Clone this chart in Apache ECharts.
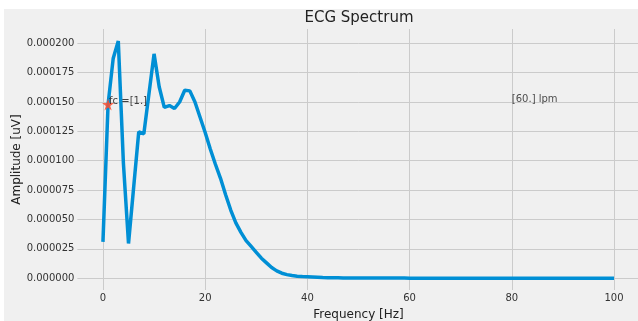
<!DOCTYPE html>
<html>
<head>
<meta charset="utf-8">
<script src="https://cdn.jsdelivr.net/npm/echarts@6/dist/echarts.min.js"></script>
<style>
    html, body { margin: 0; padding: 0; background: #ffffff; }
    #chart { position: absolute; left: 4px; top: 9px; width: 634px; height: 312px; background: #f0f0f0; }
</style>
</head>
<body>
<div id="chart"></div>
<script>
    // 频率 0..100 Hz
    const freqs = []
    for (let i = 0; i <= 100; i++) freqs.push(i)
    // 幅值
    const amps = [
        0.0000309, 0.000148, 0.000187, 0.000202, 0.000098, 0.0000295, 0.000077, 0.0001245, 0.000123, 0.000157,
        0.000191, 0.000163, 0.0001455, 0.000147, 0.0001445, 0.00015, 0.00016, 0.0001595, 0.00015, 0.000137,
        0.000124, 0.00011, 0.000097, 0.000085, 0.000071, 0.000058, 0.000047, 0.000039, 0.000032, 0.000027,
        0.000022, 0.000017, 0.000013, 0.000009, 0.0000062, 0.0000042, 0.000003, 0.0000022, 0.0000017, 0.0000013,
        0.0000011, 0.0000009, 0.0000007, 0.0000005, 0.0000004, 0.0000003, 0.0000003, 0.0000002, 0.0000002, 0.0000002,
        0.0000001, 0.0000001, 0.0000001, 0.0000001, 0.0000001, 0.0000001, 0.0000001, 0.0000001, 0.0000001, 0.0000001,
        0, 0, 0, 0, 0, 0, 0, 0, 0, 0,
        0, 0, 0, 0, 0, 0, 0, 0, 0, 0,
        0, 0, 0, 0, 0, 0, 0, 0, 0, 0,
        0, 0, 0, 0, 0, 0, 0, 0, 0, 0,
        0
    ]
    // 刻度
    const xTicks = [0, 20, 40, 60, 80, 100]
    const yTicks = [0, 0.000025, 0.00005, 0.000075, 0.0001, 0.000125, 0.00015, 0.000175, 0.0002]
    // 截止频率标记
    const fcPoint = [1, 0.000148]
    const fcText = 'fc =[1.]'
    // 心率文字
    const lpmPoint = [80, 0.00015]
    const lpmText = '[60.] lpm'

    const textColor = '#333'
    const gridColor = '#cbcbcb'
    const starPath = 'path://M50,0 L61,35 L98,35 L68,57 L79,91 L50,70 L21,91 L32,57 L2,35 L39,35 Z'

    let chart = echarts.init(document.getElementById('chart'))
    chart.setOption({
        animation: false,
        title: {
            text: 'ECG Spectrum',
            left: 355,
            top: 2,
            textAlign: 'center',
            padding: 0,
            textStyle: {
                color: '#222',
                fontSize: 15,
                fontWeight: 'normal',
                fontFamily: 'DejaVu Sans'
            }
        },
        grid: {
            left: 73.4,
            right: -1.6,
            top: 20,
            bottom: 31,
            containLabel: false,
            outerBoundsMode: 'none'
        },
        xAxis: {
            type: 'value',
            min: -5,
            max: 105,
            name: 'Frequency [Hz]',
            nameLocation: 'middle',
            nameGap: 19,
            nameMoveOverlap: false,
            nameTextStyle: { color: '#222', fontSize: 12, fontFamily: 'DejaVu Sans' },
            axisLine: { show: false },
            axisTick: { show: false, customValues: xTicks },
            axisLabel: {
                customValues: xTicks,
                color: textColor,
                fontSize: 10,
                margin: 3,
                fontFamily: 'DejaVu Sans'
            },
            splitLine: { show: true, lineStyle: { color: gridColor, width: 1 } }
        },
        yAxis: {
            type: 'value',
            min: -0.0000101,
            max: 0.0002122,
            name: 'Amplitude [uV]',
            nameLocation: 'middle',
            nameGap: 55,
            nameMoveOverlap: false,
            nameTextStyle: { color: '#222', fontSize: 12, fontFamily: 'DejaVu Sans' },
            axisLine: { show: false },
            axisTick: { show: false, customValues: yTicks },
            axisLabel: {
                customValues: yTicks,
                color: textColor,
                fontSize: 10,
                margin: 3,
                fontFamily: 'DejaVu Sans',
                formatter: v => v.toFixed(6)
            },
            splitLine: { show: true, lineStyle: { color: gridColor, width: 1 } }
        },
        series: [
            {
                type: 'line',
                data: freqs.map((f, i) => [f, amps[i]]),
                showSymbol: false,
                symbol: 'none',
                lineStyle: { color: '#008fd5', width: 3.5 },
                z: 2
            },
            {
                type: 'scatter',
                data: [fcPoint],
                symbol: starPath,
                symbolSize: 12,
                itemStyle: { color: '#fc4f30', opacity: 0.85 },
                label: {
                    show: true,
                    formatter: fcText,
                    position: [7, 8],
                    align: 'left',
                    verticalAlign: 'bottom',
                    color: '#222',
                    fontSize: 10,
                    fontFamily: 'DejaVu Sans'
                },
                z: 3
            },
            {
                type: 'scatter',
                data: [lpmPoint],
                symbolSize: 0,
                label: {
                    show: true,
                    formatter: lpmText,
                    position: 'inside',
                    offset: [0, 2],
                    align: 'left',
                    verticalAlign: 'bottom',
                    color: '#222',
                    fontSize: 10,
                    fontFamily: 'DejaVu Sans'
                },
                z: 3
            }
        ]
    }, true)
</script>
</body>
</html>
